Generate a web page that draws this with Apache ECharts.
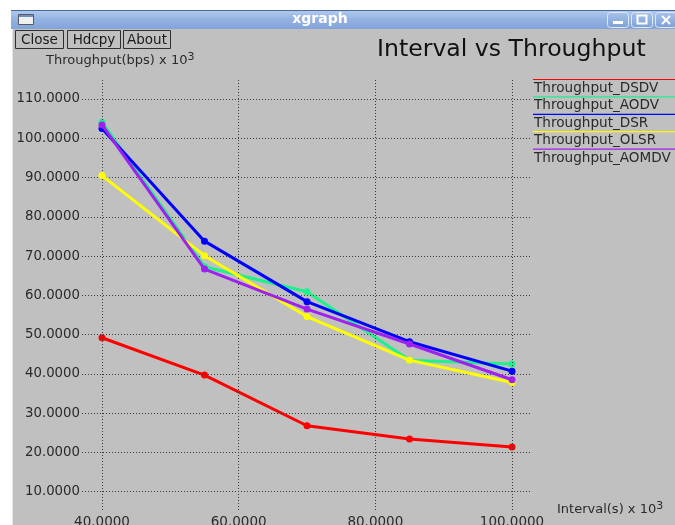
<!DOCTYPE html>
<html>
<head>
<meta charset="utf-8">
<script src="https://cdn.jsdelivr.net/npm/echarts@6/dist/echarts.min.js"></script>
<style>
html,body{margin:0;padding:0;background:#fff;}
#chart{width:675px;height:525px;}
</style>
</head>
<body>
<div id="chart"></div>
<script>
// ---- data ----
const intervals = [40, 55, 70, 85, 100];
const seriesNames = ['Throughput_DSDV', 'Throughput_AODV', 'Throughput_DSR', 'Throughput_OLSR', 'Throughput_AOMDV'];
const dsdv  = [49.2, 39.7, 26.8, 23.4, 21.4];
const aodv  = [104.1, 67.3, 60.9, 43.5, 42.5];
const dsr   = [102.5, 73.8, 58.4, 48.2, 40.7];
const olsr  = [90.5, 70.1, 54.6, 43.5, 37.8];
const aomdv = [103.4, 66.7, 56.5, 47.6, 38.5];
const xTicks = [40, 60, 80, 100];
const yTicks = [10, 20, 30, 40, 50, 60, 70, 80, 90, 100, 110];

const colors = ['#ff0000', '#1ef08c', '#0000ff', '#ffff00', '#a020f0'];
const FONT = 'DejaVu Sans';
const allData = [dsdv, aodv, dsr, olsr, aomdv];

const chart = echarts.init(document.getElementById('chart'), null, {renderer: 'canvas'});

const series = allData.map((arr, i) => ({
  name: seriesNames[i],
  type: 'line',
  data: intervals.map((x, j) => [x, arr[j]]),
  symbol: 'circle',
  symbolSize: 7,
  showSymbol: true,
  lineStyle: {color: colors[i], width: 3},
  itemStyle: {color: colors[i]},
  emphasis: {disabled: true},
  z: 3 + i
}));

// gridlines (dotted) via markLine on a helper series
series.unshift({
  name: 'grid',
  type: 'line',
  data: [],
  silent: true,
  z: 1,
  markLine: {
    silent: true,
    symbol: ['none', 'none'],
    animation: false,
    label: {show: false},
    lineStyle: {color: '#3a3a3a', width: 1, type: [1, 2]},
    emphasis: {disabled: true},
    data: xTicks.map(v => ({xAxis: v})).concat(yTicks.map(v => ({yAxis: v})))
  }
});

// legend graphics
const legendEls = [];
seriesNames.forEach((n, i) => {
  const ly = 79.5 + 17.4 * i;
  legendEls.push({
    type: 'line', shape: {x1: 533, y1: ly, x2: 675, y2: ly},
    style: {stroke: colors[i], lineWidth: 1.2}, silent: true
  });
  legendEls.push({
    type: 'text', x: 534, y: ly + 9,
    style: {text: n, font: '13.6px "' + FONT + '"', fill: '#2a2a2a', verticalAlign: 'middle', align: 'left'},
    silent: true
  });
});

const buttons = [
  {label: 'Close', x: 15, w: 48},
  {label: 'Hdcpy', x: 67, w: 53},
  {label: 'About', x: 123, w: 47}
];
const buttonEls = [];
buttons.forEach(b => {
  buttonEls.push({type: 'rect', shape: {x: b.x + 0.5, y: 30.5, width: b.w, height: 18},
    style: {fill: 'none', stroke: '#303030', lineWidth: 1}, silent: true});
  buttonEls.push({type: 'text', x: b.x + b.w / 2 + 0.5, y: 40,
    style: {text: b.label, font: '13.5px "' + FONT + '"', fill: '#1a1a1a', align: 'center', verticalAlign: 'middle'}, silent: true});
});

const winBtnEls = [];
[607, 631, 655].forEach((bx, k) => {
  winBtnEls.push({type: 'rect', shape: {x: bx + 0.5, y: 12.5, width: 21, height: 15, r: 3},
    style: {fill: {type: 'linear', x: 0, y: 0, x2: 0, y2: 1, colorStops: [{offset: 0, color: '#a9c3ea'}, {offset: 1, color: '#7a9fd6'}]},
      stroke: '#dce8f8', lineWidth: 1}, silent: true});
  if (k === 0) {
    winBtnEls.push({type: 'rect', shape: {x: bx + 6, y: 21, width: 10, height: 3}, style: {fill: '#ffffff'}, silent: true});
  } else if (k === 1) {
    winBtnEls.push({type: 'rect', shape: {x: bx + 6.5, y: 15.5, width: 9, height: 8}, style: {fill: 'none', stroke: '#ffffff', lineWidth: 2}, silent: true});
  } else {
    winBtnEls.push({type: 'line', shape: {x1: bx + 7, y1: 16, x2: bx + 15, y2: 24}, style: {stroke: '#ffffff', lineWidth: 2}, silent: true});
    winBtnEls.push({type: 'line', shape: {x1: bx + 15, y1: 16, x2: bx + 7, y2: 24}, style: {stroke: '#ffffff', lineWidth: 2}, silent: true});
  }
});

const option = {
  animation: false,
  backgroundColor: '#ffffff',
  textStyle: {fontFamily: FONT},
  title: {
    text: 'Interval vs Throughput',
    left: 372, top: 33,
    textStyle: {fontFamily: FONT, fontSize: 23.6, fontWeight: 'normal', color: '#111111'}
  },
  grid: {left: 82, top: 79, width: 449, height: 431, containLabel: false, outerBoundsMode: 'none'},
  xAxis: {
    type: 'value',
    min: 37.073, max: 102.78,
    axisLine: {show: false},
    axisTick: {show: false},
    splitLine: {show: false},
    axisLabel: {
      customValues: xTicks,
      margin: 5,
      fontFamily: FONT, fontSize: 13.5, color: '#2a2a2a',
      formatter: v => Number(v).toFixed(4)
    }
  },
  yAxis: {
    type: 'value',
    min: 5.34, max: 115.09,
    axisLine: {show: false},
    axisTick: {show: false},
    splitLine: {show: false},
    axisLabel: {
      customValues: yTicks,
      margin: 2,
      fontFamily: FONT, fontSize: 13.3, color: '#2a2a2a',
      formatter: v => Number(v).toFixed(4)
    }
  },
  graphic: [
    // window background
    {type: 'rect', z: -100, shape: {x: 12, y: 28, width: 663, height: 497}, style: {fill: '#c0c0c0'}, silent: true},
    {type: 'line', z: -99, shape: {x1: 12.5, y1: 28, x2: 12.5, y2: 525}, style: {stroke: '#e4e4e4', lineWidth: 1}, silent: true},
    // title bar
    {type: 'rect', z: -98, shape: {x: 11, y: 10, width: 664, height: 19},
      style: {fill: {type: 'linear', x: 0, y: 0, x2: 0, y2: 1, colorStops: [{offset: 0, color: '#b3cbef'}, {offset: 0.5, color: '#93b2e2'}, {offset: 1, color: '#82a4d9'}]}}, silent: true},
    {type: 'line', shape: {x1: 11, y1: 10.5, x2: 675, y2: 10.5}, style: {stroke: '#4a6a9a', lineWidth: 1}, silent: true},
    {type: 'rect', shape: {x: 18.5, y: 14.5, width: 15, height: 10}, style: {fill: '#f0f0f0', stroke: '#5a5a5a', lineWidth: 1}, silent: true},
    {type: 'rect', shape: {x: 19, y: 15, width: 14, height: 2}, style: {fill: '#6d8fc8'}, silent: true},
    {type: 'text', x: 320, y: 19.5, style: {text: 'xgraph', font: 'bold 14px "' + FONT + '"', fill: '#ffffff', align: 'center', verticalAlign: 'middle'}, silent: true},
    ...winBtnEls,
    ...buttonEls,
    // axis titles
    {type: 'text', x: 46, y: 61, style: {
      text: 'Throughput(bps) x 10{s|3}', font: '13px "' + FONT + '"', fill: '#2a2a2a', verticalAlign: 'middle',
      rich: {s: {fontSize: 11, fontFamily: FONT, verticalAlign: 'top', padding: [0, 0, 7, 0], fill: '#2a2a2a'}}
    }, silent: true},
    {type: 'text', x: 557, y: 510, style: {
      text: 'Interval(s) x 10{s|3}', font: '13px "' + FONT + '"', fill: '#2a2a2a', verticalAlign: 'middle',
      rich: {s: {fontSize: 11, fontFamily: FONT, verticalAlign: 'top', padding: [0, 0, 7, 0], fill: '#2a2a2a'}}
    }, silent: true},
    ...legendEls
  ],
  series: series
};

chart.setOption(option);
</script>
</body>
</html>
